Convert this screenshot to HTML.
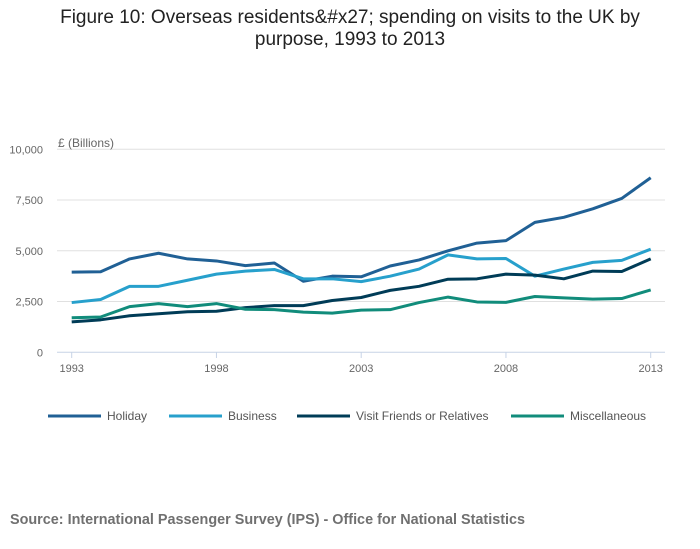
<!DOCTYPE html>
<html><head><meta charset="utf-8"><style>
body{margin:0;background:#fff;width:700px;height:549px;overflow:hidden;font-family:"Liberation Sans",sans-serif}
#title{position:absolute;left:0;top:7px;width:700px;text-align:center;font-size:19px;color:#222;line-height:22px}
#src{position:absolute;left:10px;top:512px;font-size:14.4px;font-weight:bold;color:#707070}
svg{position:absolute;left:0;top:0}
</style></head><body>
<div id="title">Figure 10: Overseas residents&amp;#x27; spending on visits to the UK by<br>purpose, 1993 to 2013</div>
<svg id="chart" width="700" height="549"></svg>
<div id="src">Source: International Passenger Survey (IPS) - Office for National Statistics</div>
<script>
const years=[1993,1994,1995,1996,1997,1998,1999,2000,2001,2002,2003,2004,2005,2006,2007,2008,2009,2010,2011,2012,2013];
const holiday=[3950,3970,4600,4880,4600,4500,4270,4400,3500,3750,3720,4250,4550,5000,5380,5500,6400,6650,7070,7580,8600];
const business=[2450,2600,3250,3250,3550,3850,4000,4080,3620,3620,3480,3750,4100,4800,4600,4620,3750,4100,4430,4530,5080];
const vfr=[1500,1600,1800,1900,2000,2020,2200,2300,2300,2550,2700,3050,3250,3600,3620,3850,3800,3620,4000,3980,4600];
const misc=[1700,1740,2250,2400,2250,2400,2120,2100,1980,1930,2080,2100,2450,2720,2480,2460,2750,2680,2620,2650,3070];
const yTicks=[0,2500,5000,7500,10000];
const yTickLabels=["0","2,500","5,000","7,500","10,000"];
const xTicks=[1993,1998,2003,2008,2013];
const seriesNames=["Holiday","Business","Visit Friends or Relatives","Miscellaneous"];
const NS="http://www.w3.org/2000/svg";
const svg=document.getElementById('chart');
const x=v=>71.7+(v-1993)*(650.7-71.7)/20;
const y=v=>352.3-v*(352.3-149.3)/10000;
function mk(t,a){const e=document.createElementNS(NS,t);for(const k in a)e.setAttribute(k,a[k]);svg.appendChild(e);return e;}
yTicks.forEach((t,i)=>{
 const l=mk('line',{x1:57,x2:665,y1:y(t),y2:y(t),stroke:t===0?'#c7d3e6':'#e0e0e0','stroke-width':1});
 
 
 const tx=mk('text',{x:43,y:y(t)+4,'text-anchor':'end','font-size':11,fill:'#666'});
 tx.textContent=yTickLabels[i];
 
 
});
const yt=mk('text',{x:58,y:147,'font-size':12,fill:'#666'});yt.textContent='£ (Billions)';


xTicks.forEach(t=>{
 const tk=mk('line',{x1:x(t),x2:x(t),y1:352,y2:358,stroke:'#c7d3e6'});
 
 
 const tx=mk('text',{x:x(t),y:372,'text-anchor':'middle','font-size':11,fill:'#666'});
 tx.textContent=t;
 
 
});
const colors=['#206095','#27a0cc','#003c57','#118c7b'];
const data=[holiday,business,vfr,misc];
data.forEach((s,i)=>{
 const p=mk('polyline',{points:s.map((v,j)=>x(years[j])+','+y(v)).join(' '),fill:'none',stroke:colors[i],'stroke-width':3,'stroke-linejoin':'round'});
 
 
});
const lx=[48,169,297,511];
seriesNames.forEach((n,i)=>{
 const l=mk('line',{x1:lx[i],x2:lx[i]+53,y1:416,y2:416,stroke:colors[i],'stroke-width':3});
 
 
 const t=mk('text',{x:lx[i]+59,y:420,'font-size':12,fill:'#555'});
 t.textContent=n;
 
 
});
</script>
</body></html>
